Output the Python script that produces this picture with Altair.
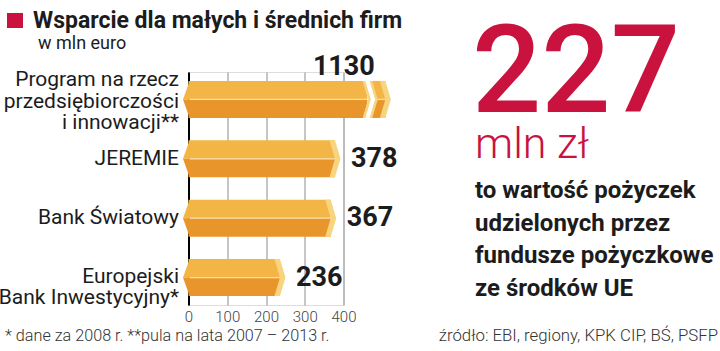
import altair as alt
import pandas as pd

# ---------------- data ----------------
CATEGORIES = [
    "Program na rzecz|przedsiębiorczości|i innowacji**",
    "JEREMIE",
    "Bank Światowy",
    "Europejski|Bank Inwestycyjny*",
]
VALUES = [1130, 378, 367, 236]
VALUE_LABELS = ["1130", "378", "367", "236"]
X_TICKS = [0, 100, 200, 300, 400]
AXIS_MAX = 400
# display of the broken bar (value beyond the axis), in axis units
BREAK_AT = 464
RESUME_AT = 482
BROKEN_END = 508

TITLE = "Wsparcie dla małych i średnich firm"
SUBTITLE = "w mln euro"
FOOTNOTE = "* dane za 2008 r. **pula na lata 2007 – 2013 r."
BIG_NUMBER = "227"
BIG_UNIT = "mln zł"
BODY_LINES = ["to wartość pożyczek", "udzielonych przez", "fundusze pożyczkowe", "ze środków UE"]
SOURCE = "źródło: EBI, regiony, KPK CIP, BŚ, PSFP"

# ---------------- style ----------------
W, H = 720, 351
LEFT, TOP = 188.5, 72
PW, PH = 155, 233
FONT = "Roboto"
LIGHT = "#F3B545"
DARK = "#E8962B"
PALE = "#F8D47E"
SEP = "#FADFA6"
RED = "#C9123E"
INK = "#1c1c1c"
EDGE_PX = 5.5
EDGE_UNITS = EDGE_PX / (PW / AXIS_MAX)
PAD_INNER, PAD_OUTER = 0.376, 0.15
STEP = PH / (len(CATEGORIES) - PAD_INNER + 2 * PAD_OUTER)
BAND = STEP * (1 - PAD_INNER)
SYM = BAND * BAND  # symbol area so that path unit = half band
LABEL_LH = 21.5
LABEL_SHIFT = {CATEGORIES[0]: -19, CATEGORIES[3]: -1}

P_END = "M-0.297,-1 L0,-1 L0.297,0 L0,1 L-0.297,1 L0,0 Z"
P_THIN = "M-0.297,-1 L-0.16,-1 L0.137,0 L-0.16,1 L-0.297,1 L0,0 Z"
P_MASK_END = "M-0.297,-1.03 L0.06,-1.03 L0.36,0 L0.06,1.03 L-0.297,1.03 L0,0 Z"
P_MASK_START = "M-0.42,-1.03 L-0.297,-1.03 L0,0 L-0.297,1.03 L-0.42,1.03 Z"
P_TIP_TOP = "M0.06,-1 L-0.297,0 L0.06,0 Z"
P_TIP_BOT = "M0.06,0 L-0.297,0 L0.06,1 Z"

# ---------------- tables ----------------
segs, ends, cut_ends, cut_starts, tips = [], [], [], [], []
for c, v in zip(CATEGORIES, VALUES):
    tips.append({"cat": c, "x": 0})
    if v > AXIS_MAX:
        segs.append({"cat": c, "start": 0, "end": BREAK_AT})
        segs.append({"cat": c, "start": RESUME_AT - EDGE_UNITS, "end": BROKEN_END})
        cut_ends.append({"cat": c, "x": BREAK_AT})
        cut_starts.append({"cat": c, "x": RESUME_AT})
        ends.append({"cat": c, "x": BROKEN_END})
    else:
        segs.append({"cat": c, "start": 0, "end": v})
        ends.append({"cat": c, "x": v})

seg_df = pd.DataFrame(segs)
halves = pd.concat([seg_df.assign(half="top"), seg_df.assign(half="bottom")], ignore_index=True)
vals_df = pd.DataFrame({
    "cat": CATEGORIES,
    "value": VALUES,
    "label": VALUE_LABELS,
    "label_x": [BROKEN_END if v > AXIS_MAX else v for v in VALUES],
    "broken": [v > AXIS_MAX for v in VALUES],
})

XSCALE = alt.Scale(domain=[0, AXIS_MAX], nice=False, zero=False)
YSCALE = alt.Scale(domain=CATEGORIES, paddingInner=PAD_INNER, paddingOuter=PAD_OUTER)
XAXIS = alt.Axis(values=X_TICKS, grid=True, gridColor="#8c8c8c", gridWidth=1,
                 domain=False, ticks=False, labelFontSize=15, labelFontWeight=300,
                 labelColor="#444444", labelPadding=4, labelFont=FONT, format="d",
                 labelFlush=False, labelOverlap=False)
label_offset = {
    "condition": [{"test": f"datum.value === '{k}'", "value": v} for k, v in LABEL_SHIFT.items()],
    "value": 0,
}
YAXIS = alt.Axis(grid=False, ticks=False, domain=True, domainColor="#000000", domainWidth=2,
                 labelExpr="split(datum.label, '|')", labelFontSize=21, labelLineHeight=LABEL_LH,
                 labelPadding=10, labelColor=INK, labelFont=FONT, labelLimit=300,
                 labelOffset=label_offset)


def X(field):
    return alt.X(f"{field}:Q", scale=XSCALE, axis=XAXIS, title=None)


def Y():
    return alt.Y("cat:N", scale=YSCALE, axis=YAXIS, title=None)


bars = alt.Chart(halves).mark_bar().encode(
    x=X("start"), x2="end:Q", y=Y(),
    yOffset=alt.YOffset("half:N", scale=alt.Scale(domain=["top", "bottom"], paddingInner=0, paddingOuter=0)),
    color=alt.Color("half:N", scale=alt.Scale(domain=["top", "bottom"], range=[LIGHT, DARK]), legend=None),
)
sep = alt.Chart(seg_df).mark_rule(color=SEP, strokeWidth=1.3).encode(x=X("start"), x2="end:Q", y=Y())


def sym(rows, path, color):
    return alt.Chart(pd.DataFrame(rows)).mark_point(
        shape=path, filled=True, size=SYM, opacity=1, fill=color, strokeWidth=0
    ).encode(x=X("x"), y=Y())


layers = [bars, sep]
if cut_ends:
    layers += [sym(cut_ends, P_MASK_END, "#ffffff"), sym(cut_starts, P_MASK_START, "#ffffff")]
layers += [sym(tips, P_TIP_TOP, LIGHT), sym(tips, P_TIP_BOT, DARK), sym(ends, P_END, PALE)]
if cut_ends:
    layers += [sym(cut_ends, P_THIN, PALE), sym(cut_starts, P_THIN, PALE)]

val_text = alt.Chart(vals_df).transform_filter("!datum.broken").mark_text(
    align="left", baseline="middle", dx=16, fontSize=27, fontWeight="bold", color=INK, font=FONT
).encode(x=X("label_x"), y=Y(), text="label:N")
val_text_broken = alt.Chart(vals_df).transform_filter("datum.broken").mark_text(
    align="right", baseline="alphabetic", dx=-10.5, dy=-24, fontSize=27, fontWeight="bold", color=INK, font=FONT
).encode(x=X("label_x"), y=Y(), text="label:N")
layers += [val_text, val_text_broken]


def note(text, x, y, size, weight, color, align="left", line_height=None):
    kw = dict(align=align, baseline="alphabetic", fontSize=size, fontWeight=weight, color=color, font=FONT)
    if line_height:
        kw.update(lineBreak="|", lineHeight=line_height)
    return alt.Chart(pd.DataFrame({"t": [text]})).mark_text(**kw).encode(
        x=alt.value(x - LEFT), y=alt.value(y - TOP), text="t:N"
    )


square = alt.Chart(pd.DataFrame({"t": [TITLE]})).mark_rect(color=RED).encode(
    x=alt.value(7 - LEFT), x2=alt.value(23 - LEFT), y=alt.value(13 - TOP), y2=alt.value(28 - TOP)
)
layers += [
    square,
    note(TITLE, 33, 28, 23, "bold", INK),
    note(SUBTITLE, 38, 49, 18, 400, INK),
    note(FOOTNOTE, 5, 341, 16.2, 300, "#333333"),
    note(BIG_NUMBER, 472, 112, 122, 500, RED),
    note(BIG_UNIT, 475, 158, 43, 300, RED),
    note("|".join(BODY_LINES), 475, 198, 24, "bold", INK, line_height=32.5),
    note(SOURCE, 718, 341, 16.8, 300, "#333333", align="right"),
]

chart = alt.layer(*layers).properties(
    width=PW, height=PH,
    padding={"left": LEFT, "top": TOP, "right": W - LEFT - PW, "bottom": H - TOP - PH},
    autosize=alt.AutoSizeParams(type="none"),
    background="#ffffff",
).configure_view(stroke=None).configure(font=FONT)

chart.save("out.html", embed_options={"renderer": "svg", "actions": False})
